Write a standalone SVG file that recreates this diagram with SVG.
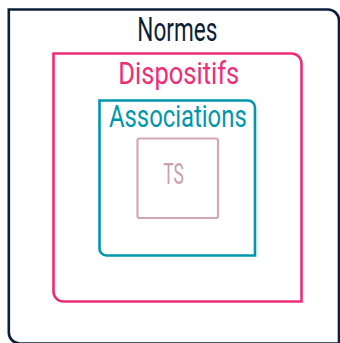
<svg xmlns="http://www.w3.org/2000/svg" width="340" height="343" viewBox="0 0 340 343">
  <style>
    .box { fill: none; stroke-width: 2.6; }
    .lbl { font-family: Roboto, "Liberation Sans", sans-serif; font-weight: 400; }
    .normes { stroke: #0d1f3a; }
    .dispo { stroke: #ee2c78; }
    .assoc { stroke: #0097ae; }
    .ts { stroke: #d3a7b5; stroke-width: 2.2; }
  </style>
  <rect width="340" height="343" fill="#ffffff"/>

  <!-- boxes: square top-left and bottom-right corners, rounded on the other two -->
  <g id="normes">
    <path class="box normes" d="M8.8 9.5 H328 A11 11 0 0 1 339 20.5 V343.5 H19.8 A11 11 0 0 1 8.8 332.5 Z"/>
    <text class="lbl" x="137.3" y="40.7" font-size="33" fill="#0d1f3a" textLength="80" lengthAdjust="spacingAndGlyphs">Normes</text>
  </g>
  <g id="dispositifs">
    <path class="box dispo" d="M53.5 53.5 H291.5 A10 10 0 0 1 301.5 63.5 V301.5 H63.5 A10 10 0 0 1 53.5 291.5 Z"/>
    <text class="lbl" x="118.3" y="84.3" font-size="31" fill="#ee2c78" textLength="121" lengthAdjust="spacingAndGlyphs">Dispositifs</text>
  </g>
  <g id="associations">
    <path class="box assoc" d="M99.5 100.5 H248 A7 7 0 0 1 255 107.5 V255.5 H106.5 A7 7 0 0 1 99.5 248.5 Z"/>
    <text class="lbl" x="109" y="126.7" font-size="30.5" fill="#0097ae" textLength="137.7" lengthAdjust="spacingAndGlyphs">Associations</text>
  </g>
  <g id="ts">
    <rect class="box ts" x="137.5" y="138.5" width="80.5" height="79.5" rx="2"/>
    <text class="lbl" x="163.3" y="184.3" font-size="30" fill="#c9a0ae" textLength="20.7" lengthAdjust="spacingAndGlyphs">TS</text>
  </g>
  <g id="connectors"/>
</svg>
